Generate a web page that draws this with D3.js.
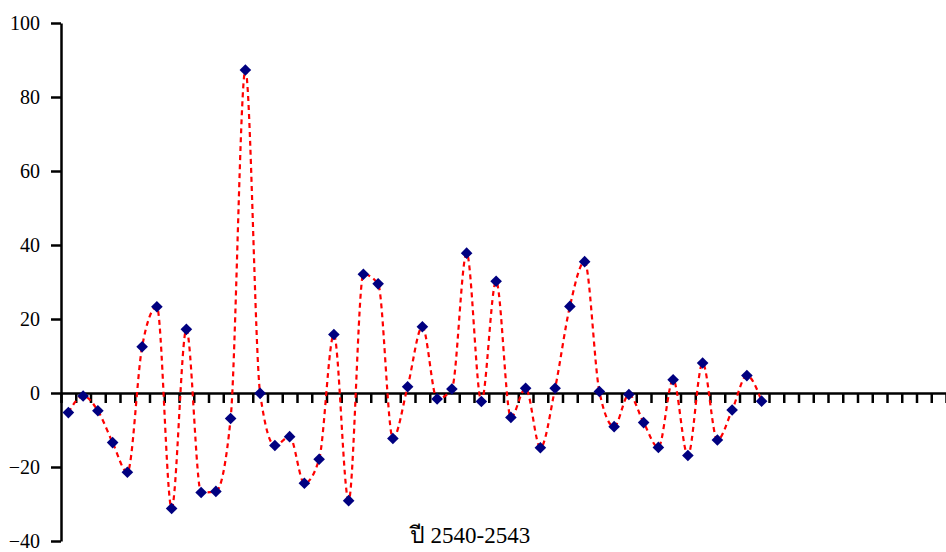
<!DOCTYPE html>
<html>
<head>
<meta charset="utf-8">
<script src="https://cdn.jsdelivr.net/npm/d3@7"></script>
<style>
  html, body { margin: 0; padding: 0; background: #fff; }
  svg { display: block; }
</style>
</head>
<body>
<svg id="chart" width="946" height="552"></svg>
<script>
// Monthly values, 48 periods (2540-2543)
const values = [
  -5.3, -0.8, -4.8, -13.4, -21.4, 12.5, 23.3, -31.2, 17.2, -26.9, -26.6, -6.9,
  87.3, -0.1, -14.2, -11.8, -24.4, -17.9, 15.8, -29.1, 32.1, 29.5, -12.3, 1.7,
  17.9, -1.6, 1.1, 37.8, -2.3, 30.2, -6.6, 1.3, -14.8, 1.3, 23.4, 35.5,
  0.4, -9.1, -0.4, -8.0, -14.7, 3.6, -16.9, 8.1, -12.7, -4.6, 4.7, -2.2
];
const categoryCount = 60;           // slots along the x axis
const yTicks = [-40, -20, 0, 20, 40, 60, 80, 100];
const xTitle = "ปี 2540-2543";

const svg = d3.select("#chart");
const x = d3.scaleLinear().domain([0, categoryCount]).range([61, 946]);
const y = d3.scaleLinear().domain([-40, 100]).range([541, 23]);

// Y axis
const yAxis = svg.append("g")
  .attr("transform", `translate(${x(0)},0)`)
  .call(d3.axisLeft(y).tickValues(yTicks).tickSize(10).tickSizeOuter(0).tickPadding(11));
yAxis.select(".domain").attr("stroke", "#000").attr("stroke-width", 2.5);
yAxis.selectAll(".tick line").attr("stroke", "#000").attr("stroke-width", 2.5);
yAxis.selectAll(".tick text")
  .attr("font-family", "'Liberation Serif', 'Times New Roman', serif")
  .attr("font-size", 20).attr("fill", "#000");

// X axis at zero
const xAxis = svg.append("g")
  .attr("transform", `translate(0,${y(0)})`)
  .call(d3.axisBottom(x).tickValues(d3.range(categoryCount + 1)).tickSize(10).tickSizeOuter(0).tickFormat(""));
xAxis.select(".domain").attr("stroke", "#000").attr("stroke-width", 2.5);
xAxis.selectAll(".tick line").attr("stroke", "#000").attr("stroke-width", 2.5);

// Smoothed dotted line
const line = d3.line()
  .x((d, i) => x(i + 0.5))
  .y(d => y(d))
  .curve(d3.curveMonotoneX);
svg.append("path")
  .datum(values)
  .attr("d", line)
  .attr("fill", "none")
  .attr("stroke", "#ff0000")
  .attr("stroke-width", 2.2)
  .attr("stroke-dasharray", "5,4");

// Diamond markers
svg.append("g").selectAll("path")
  .data(values)
  .join("path")
  .attr("d", (d, i) => {
    const cx = x(i + 0.5), cy = y(d), r = 5.8;
    return `M${cx},${cy - r}L${cx + r},${cy}L${cx},${cy + r}L${cx - r},${cy}Z`;
  })
  .attr("fill", "#000080");

// X title
svg.append("text")
  .attr("x", 470).attr("y", 543)
  .attr("text-anchor", "middle")
  .attr("font-family", "'Liberation Serif', 'Times New Roman', serif")
  .attr("font-size", 23)
  .attr("fill", "#000")
  .text(xTitle);
</script>
</body>
</html>
